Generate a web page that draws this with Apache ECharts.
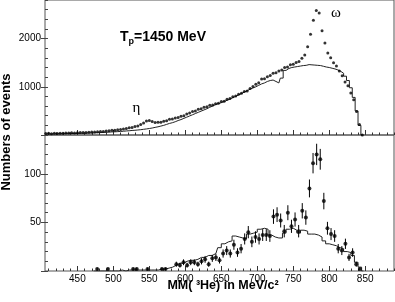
<!DOCTYPE html>
<html><head><meta charset="utf-8">
<script src="https://cdn.jsdelivr.net/npm/echarts@6/dist/echarts.min.js"></script>
<style>html,body{margin:0;padding:0;background:#fff}#c{width:395px;height:302px}</style>
</head><body><div id="c"></div>
<script>
// ---------- Upper panel (all events), 4 MeV bins ----------
const upperMeV = [406,410,414,418,422,426,430,434,438,442,446,450,454,458,462,466,470,474,478,482,486,490,494,498,502,506,510,514,518,522,526,530,534,538,542,546,550,554,558,562,566,570,574,578,582,586,590,594,598,602,606,610,614,618,622,626,630,634,638,642,646,650,654,658,662,666,670,674,678,682,686,690,694,698,702,706,710,714,718,722,726,730,734,738,742,746,750,754,758,762,766,770,774,778,782,786,790,794,798,802,806,810,814,818,822,826,830,834,838,842,846];
const upperData = [30,34,28,36,32,38,35,41,40,46,43,49,50,54,53,59,60,64,66,72,75,82,87,96,99,110,114,124,133,150,158,175,188,218,248,292,302,282,260,262,262,284,298,325,330,355,362,390,400,435,455,490,500,535,545,575,585,615,620,650,660,695,700,740,755,795,810,845,865,900,915,965,1005,1055,1085,1160,1165,1210,1235,1280,1290,1330,1350,1400,1410,1455,1465,1505,1525,1590,1660,1830,2090,2380,2580,2530,2160,1910,1700,1600,1500,1430,1330,1230,1100,1020,870,730,490,220,0];
const upperMC = [20,20,22,22,24,25,26,28,29,30,32,33,35,36,38,40,42,45,48,50,54,56,60,64,66,70,74,78,84,88,94,98,104,110,118,126,135,145,158,170,185,200,220,240,255,275,300,320,345,370,395,420,445,470,495,520,545,575,600,630,650,670,695,720,745,775,800,830,860,890,920,950,975,1000,1030,1060,1080,1110,1130,1140,1110,1080,1180,1340,1380,1400,1410,1420,1430,1440,1445,1460,1455,1450,1445,1440,1425,1410,1400,1385,1370,1350,1320,1280,1220,1130,980,780,500,200,0];

// ---------- Lower panel (selected events), 5 MeV bins ----------
const lowerMeV = [472.5,477.5,482.5,487.5,492.5,497.5,502.5,507.5,512.5,517.5,522.5,527.5,532.5,537.5,542.5,547.5,552.5,557.5,562.5,567.5,572.5,577.5,582.5,587.5,592.5,597.5,602.5,607.5,612.5,617.5,622.5,627.5,632.5,637.5,642.5,647.5,652.5,657.5,662.5,667.5,672.5,677.5,682.5,687.5,692.5,697.5,702.5,707.5,712.5,717.5,722.5,727.5,732.5,737.5,742.5,747.5,752.5,757.5,762.5,767.5,772.5,777.5,782.5,787.5,792.5,797.5,802.5,807.5,812.5,817.5,822.5,827.5,832.5,837.5,842.5,847.5];
const lowerData = [null,2,null,null,2,null,null,null,null,null,null,2,2,null,null,2,null,null,null,2,2,null,null,7,6,9,6,9,9,7,10,12,7,13,14,11,18,21,18,27,19,23,33,40,30,35,33,37,37,36,56,58,52,41,60,46,53,41,62,55,85,111,120,115,72,44,38,36,23,21,28,14,19,7,2,null];
const lowerErr = [null,1.4,null,null,1.4,null,null,null,null,null,null,1.4,1.4,null,null,1.4,null,null,null,1.4,1.4,null,null,2.6,2.4,3,2.4,3,3,2.6,3.2,3.5,2.6,3.6,3.7,3.3,4.2,4.6,4.2,5.2,4.4,4.8,5.7,6.3,5.5,5.9,5.7,6.1,6.1,6,7.5,7.6,7.2,6.4,7.7,6.8,7.3,6.4,7.9,7.4,9.2,10.5,11,10.7,8.5,6.6,6.2,6,4.8,4.6,5.3,3.7,4.4,2.6,1.4,null];
const lowerMC = [0,0,0,0,0,0,0,0,1,0,1,1,1,1,1,1,1,1,1,2,2,3,4,6,8,8,10,11,11,12,14,14,16,16,18,24,28,30,31,36,35,34,33,38,39,40,43,44,43,37,35,34,34,39,43,44,42,39,42,41,38,38,37,35,31,28,27,26,24,23,20,19,16,9,4,0];

// ---------- Axis tick labels ----------
const xTickLabels = [450,500,550,600,650,700,750,800,850];
const upperYLabels = [1000,2000];
const lowerYLabels = [50,100];

const FONT = "'Liberation Sans', Arial, Helvetica, sans-serif";
const XMIN = 405, XMAX = 890;
const PLOT_L = 45, PLOT_W = 349;
const K = PLOT_W / (XMAX - XMIN);
const UP_TOP = 0, UP_H = 135, UP_MAX = 2800;
const LO_TOP = 135, LO_H = 136, LO_MAX = 140;

const pair = (xs, ys) => xs.map((x, i) => [x, ys[i]]);
const lowerPts = lowerMeV.map((x, i) => [x, lowerData[i], lowerErr[i]]).filter(p => p[1] != null);

function gridFor(xmin, xmax, top, h, extra) {
  return Object.assign({ left: PLOT_L + (xmin - XMIN) * K, width: (xmax - xmin) * K, top: top, height: h, outerBoundsMode: 'none', containLabel: false }, extra || {});
}
const xMajor = xTickLabels[0], xMajorMax = xTickLabels[xTickLabels.length - 1];

const grids = [
  gridFor(XMIN, XMAX, UP_TOP, UP_H, { show: true, borderColor: '#555', borderWidth: 1, backgroundColor: 'transparent' }), //0 upper data
  gridFor(XMIN, XMAX, LO_TOP, LO_H, { show: true, borderColor: '#555', borderWidth: 1, backgroundColor: 'transparent' }), //1 lower data
  gridFor(410, XMAX, UP_TOP, UP_H), //2 upper minor x ticks
  gridFor(xMajor, xMajorMax, UP_TOP, UP_H), //3 upper major x ticks
  gridFor(410, XMAX, LO_TOP, LO_H), //4 lower minor x ticks
  gridFor(xMajor, xMajorMax, LO_TOP, LO_H), //5 lower major x ticks + labels
  gridFor(XMIN, XMAX, UP_TOP + UP_H - UP_H * upperYLabels[1] / UP_MAX, UP_H * upperYLabels[1] / UP_MAX), //6 upper major y
  gridFor(XMIN, XMAX, LO_TOP + LO_H - LO_H * lowerYLabels[1] / LO_MAX, LO_H * lowerYLabels[1] / LO_MAX)  //7 lower major y
];

const hiddenX = (gi, min, max) => ({ type: 'value', gridIndex: gi, min: min, max: max, show: true,
  axisLine: { show: false }, axisTick: { show: false }, axisLabel: { show: false }, splitLine: { show: false } });
const hiddenY = (gi) => ({ type: 'value', gridIndex: gi, min: 0, max: 1, show: false });

const tickX = (gi, min, max, interval, len, labels) => ({
  type: 'value', gridIndex: gi, min: min, max: max, interval: interval,
  axisLine: { show: false }, splitLine: { show: false },
  axisTick: { show: true, inside: true, length: len, lineStyle: { color: '#333', width: 1 } },
  axisLabel: labels ? { show: true, fontSize: 10, fontFamily: FONT, color: '#000', margin: 3, showMinLabel: true, showMaxLabel: true, hideOverlap: false } : { show: false }
});

const xAxes = [
  hiddenX(0, XMIN, XMAX), hiddenX(1, XMIN, XMAX),
  tickX(2, 410, XMAX, 10, 2.5, false),
  tickX(3, xMajor, xMajorMax, 50, 5, false),
  tickX(4, 410, XMAX, 10, 2.5, false),
  tickX(5, xMajor, xMajorMax, 50, 5, true),
  hiddenX(6, XMIN, XMAX), hiddenX(7, XMIN, XMAX)
];

const minorY = (gi, max, interval) => ({
  type: 'value', gridIndex: gi, min: 0, max: max, interval: interval,
  axisLine: { show: false }, splitLine: { show: false }, axisLabel: { show: false },
  axisTick: { show: true, inside: true, length: 3, lineStyle: { color: '#444' } }
});
const majorY = (gi, labels) => ({
  type: 'value', gridIndex: gi, min: 0, max: labels[1], interval: labels[0],
  axisLine: { show: false }, splitLine: { show: false },
  axisTick: { show: true, inside: false, length: 4, lineStyle: { color: '#444' } },
  axisLabel: { show: true, fontSize: 10, fontFamily: FONT, color: '#000', margin: 4,
    formatter: v => (labels.indexOf(v) >= 0 ? String(v) : ''), showMinLabel: true, showMaxLabel: true, hideOverlap: false }
});

const yAxes = [
  minorY(0, UP_MAX, 200), minorY(1, LO_MAX, 10),
  hiddenY(2), hiddenY(3), hiddenY(4), hiddenY(5),
  majorY(6, upperYLabels), majorY(7, lowerYLabels)
];

const chart = echarts.init(document.getElementById('c'), null, { renderer: 'canvas' });
chart.setOption({
  animation: false,
  backgroundColor: '#fff',
  grid: grids,
  xAxis: xAxes,
  yAxis: yAxes,
  series: [
    { type: 'line', xAxisIndex: 0, yAxisIndex: 0, step: 'middle', showSymbol: false, symbol: 'none',
      data: pair(upperMeV, upperMC), lineStyle: { color: '#222', width: 1 }, z: 2 },
    { type: 'scatter', xAxisIndex: 0, yAxisIndex: 0, data: pair(upperMeV, upperData),
      symbol: 'circle', symbolSize: 3, itemStyle: { color: '#000' }, z: 3 },
    { type: 'line', xAxisIndex: 1, yAxisIndex: 1, step: 'middle', showSymbol: false, symbol: 'none',
      data: pair(lowerMeV, lowerMC), lineStyle: { color: '#222', width: 1 }, z: 2 },
    { type: 'custom', xAxisIndex: 1, yAxisIndex: 1, clip: true, data: lowerPts, z: 3,
      renderItem: function (params, api) {
        const x = api.value(0), y = api.value(1), e = api.value(2);
        const a = api.coord([x, y + e]), b = api.coord([x, Math.max(0, y - e)]);
        return { type: 'line', shape: { x1: a[0], y1: a[1], x2: b[0], y2: b[1] }, style: { stroke: '#000', lineWidth: 1 } };
      } },
    { type: 'scatter', xAxisIndex: 1, yAxisIndex: 1, data: lowerPts.map(p => [p[0], p[1]]), clip: true,
      symbol: 'circle', symbolSize: 4, itemStyle: { color: '#000' }, z: 4 }
  ],
  graphic: [
    { type: 'text', x: 120, y: 37, style: { text: 'T', font: 'bold 14px ' + FONT, fill: '#000', verticalAlign: 'middle', align: 'left' } },
    { type: 'text', x: 128.5, y: 42, style: { text: 'p', font: 'bold 9px ' + FONT, fill: '#000', verticalAlign: 'middle', align: 'left' } },
    { type: 'text', x: 134, y: 37, style: { text: '=1450 MeV', font: 'bold 14px ' + FONT, fill: '#000', verticalAlign: 'middle', align: 'left' } },
    { type: 'text', x: 136.5, y: 108, style: { text: 'η', font: '15px "Liberation Serif", "Times New Roman", serif', fill: '#000', verticalAlign: 'middle', align: 'center' } },
    { type: 'text', x: 336, y: 13, style: { text: 'ω', font: '15px "Liberation Serif", "Times New Roman", serif', fill: '#000', verticalAlign: 'middle', align: 'center' } },
    { type: 'text', x: 6, y: 132, rotation: Math.PI / 2, style: { text: 'Numbers of events', font: 'bold 13px ' + FONT, fill: '#000', verticalAlign: 'middle', align: 'center' } },
    { type: 'text', x: 223, y: 286, style: { text: 'MM( ³He) in MeV/c²', font: 'bold 12.5px ' + FONT, fill: '#000', verticalAlign: 'middle', align: 'center' } }
  ]
});
</script>
</body></html>
